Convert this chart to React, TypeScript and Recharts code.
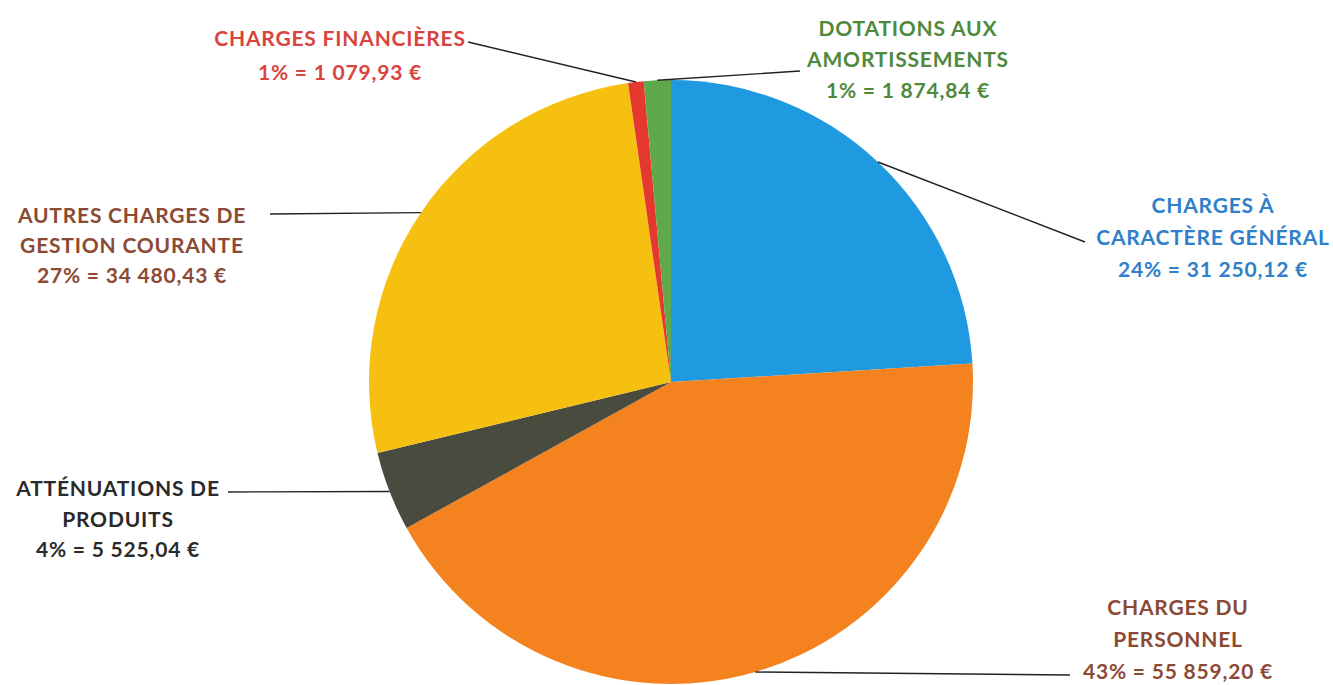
import React from "react";
import { PieChart, Pie, Cell } from "recharts";

const categories = [
  "CHARGES À CARACTÈRE GÉNÉRAL",
  "CHARGES DU PERSONNEL",
  "ATTÉNUATIONS DE PRODUITS",
  "AUTRES CHARGES DE GESTION COURANTE",
  "CHARGES FINANCIÈRES",
  "DOTATIONS AUX AMORTISSEMENTS",
];
const values = [31250.12, 55859.2, 5525.04, 34480.43, 1079.93, 1874.84];
const percentLabels = ["24%", "43%", "4%", "27%", "1%", "1%"];
const amountLabels = ["31 250,12 €", "55 859,20 €", "5 525,04 €", "34 480,43 €", "1 079,93 €", "1 874,84 €"];
const labelLines = [
  ["CHARGES À", "CARACTÈRE GÉNÉRAL"],
  ["CHARGES DU", "PERSONNEL"],
  ["ATTÉNUATIONS DE", "PRODUITS"],
  ["AUTRES CHARGES DE", "GESTION COURANTE"],
  ["CHARGES FINANCIÈRES"],
  ["DOTATIONS AUX", "AMORTISSEMENTS"],
];

const sliceColors = ["#1f9ae0", "#f4821f", "#4a4b3f", "#f6c011", "#e5392f", "#5fa84b"];
const textColors = ["#2f7fca", "#8b4a33", "#2a2a2a", "#8b4a33", "#d9443e", "#4f8a3c"];

// layout: end of leader line and text block position, relative to pie centre
const lineEnd = [
  [414, -140],
  [399, 293],
  [-443, 110],
  [-401, -168],
  [-203, -340],
  [129, -311],
];
const textPos = [
  [542, -169],
  [507, 233],
  [-553, 114],
  [-539, -159],
  [-331, -336],
  [237, -346],
];
const lineGap = [32, 32, 30.5, 30, 34, 31];

const data = categories.map((name, i) => ({ name, value: values[i] }));

const RAD = Math.PI / 180;

const renderLabel = (props: any) => {
  const { cx, cy, midAngle, outerRadius, index } = props;
  const sx = cx + outerRadius * Math.cos(-midAngle * RAD);
  const sy = cy + outerRadius * Math.sin(-midAngle * RAD);
  const ex = cx + lineEnd[index][0];
  const ey = cy + lineEnd[index][1];
  const tx = cx + textPos[index][0];
  const ty = cy + textPos[index][1];
  const lines = [...labelLines[index], `${percentLabels[index]} = ${amountLabels[index]}`];
  return (
    <g key={`lbl-${index}`}>
      <line x1={sx} y1={sy} x2={ex} y2={ey} stroke="#222" strokeWidth={1.4} />
      <text
        x={tx}
        y={ty}
        textAnchor="middle"
        fill={textColors[index]}
        fontFamily="Lato, 'Open Sans', sans-serif"
        fontWeight={700}
        fontSize={21}
        letterSpacing={0.8}
      >
        {lines.map((l, k) => (
          <tspan key={k} x={tx} dy={k === 0 ? 0 : lineGap[index]}>
            {l}
          </tspan>
        ))}
      </text>
    </g>
  );
};

export default function App() {
  return (
    <div style={{ position: "absolute", left: 0, top: 0, width: 1333, height: 685, background: "#fff", overflow: "hidden" }}>
      <PieChart width={1333} height={685} margin={{ top: 0, right: 0, bottom: 0, left: 0 }}>
        <Pie
          data={data}
          dataKey="value"
          nameKey="name"
          cx={671}
          cy={382}
          outerRadius={302}
          startAngle={90}
          endAngle={-270}
          stroke="none"
          label={renderLabel}
          labelLine={false}
          isAnimationActive={false}
        >
          {data.map((d, i) => (
            <Cell key={d.name} fill={sliceColors[i]} />
          ))}
        </Pie>
      </PieChart>
    </div>
  );
}
